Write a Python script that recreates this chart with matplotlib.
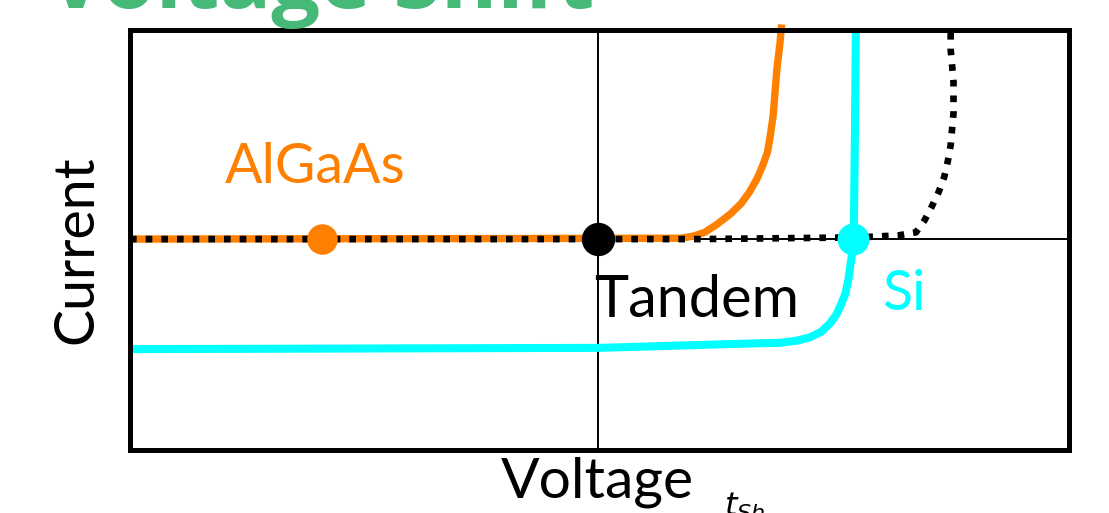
import matplotlib
matplotlib.use("Agg")
import matplotlib.pyplot as plt

# ---- data (normalised voltage / current) ----
algaas_v = [0.0, 0.586, 0.600, 0.612, 0.625, 0.639, 0.651, 0.660, 0.668, 0.674,
            0.679, 0.682, 0.685, 0.687, 0.689, 0.692, 0.694]
algaas_i = [0.501, 0.503, 0.508, 0.517, 0.536, 0.560, 0.586, 0.614, 0.646, 0.677,
            0.709, 0.749, 0.796, 0.852, 0.908, 0.963, 1.012]

si_v = [0.0, 0.5, 0.671, 0.692, 0.710, 0.724, 0.736, 0.745, 0.752, 0.757, 0.762,
        0.765, 0.767, 0.769, 0.770, 0.771, 0.772, 0.773]
si_i = [0.239, 0.242, 0.253, 0.254, 0.259, 0.267, 0.280, 0.299, 0.320, 0.344, 0.372,
        0.404, 0.435, 0.467, 0.503, 0.546, 0.75, 1.0]

tandem_v = [0.0, 0.606, 0.777, 0.819, 0.837, 0.846, 0.854, 0.861, 0.867, 0.871,
            0.874, 0.877, 0.877, 0.874, 0.874]
tandem_i = [0.501, 0.501, 0.505, 0.51, 0.517, 0.545, 0.579, 0.612, 0.648, 0.687,
            0.725, 0.801, 0.876, 0.952, 1.0]

op_v = [0.204, 0.498, 0.770]      # operating points: AlGaAs, Tandem, Si
op_i = [0.501, 0.501, 0.501]

labels = ["AlGaAs", "Tandem", "Si"]

ORANGE = "#FF8000"
CYAN = "#00FFFF"
GREEN = "#46B978"

W, H = 1109, 513
fig = plt.figure(figsize=(W / 100, H / 100), dpi=100)
L, R, T, B = 130, 1069, 29.5, 449.5
ax = fig.add_axes([L / W, 1 - B / H, (R - L) / W, (B - T) / H])
ax.set_xlim(0, 1)
ax.set_ylim(0, 1)
ax.set_xticks([])
ax.set_yticks([])
for s in ax.spines.values():
    s.set_linewidth(3.6)
    s.set_color("black")
    s.set_zorder(10)

ax.axvline(0.498, color="black", lw=1.4, zorder=1)
ax.axhline(0.501, color="black", lw=1.4, zorder=1)

ax.plot(si_v, si_i, color=CYAN, lw=5.8, solid_joinstyle="round",
        solid_capstyle="butt", zorder=2)
ax.plot(algaas_v, algaas_i, color=ORANGE, lw=5.3, solid_joinstyle="round",
        solid_capstyle="butt", zorder=3, clip_on=False)
ax.plot(tandem_v, tandem_i, color="black", lw=4.8, linestyle=(0, (1, 1.35)),
        dash_capstyle="butt", zorder=4)

ax.plot([op_v[0]], [op_i[0]], "o", color=ORANGE, ms=21, zorder=6)
ax.plot([op_v[1]], [op_i[1]], "o", color="black", ms=23, zorder=6)
ax.plot([op_v[2]], [op_i[2]], "o", color=CYAN, ms=22, zorder=6)

FONT = ["Lato", "DejaVu Sans"]
FS = 40
ax.text(0.101, 0.635, labels[0], color=ORANGE, fontsize=FS, family=FONT,
        ha="left", va="baseline", zorder=7)
ax.text(0.494, 0.315, labels[1], color="black", fontsize=41.5, family=FONT,
        ha="left", va="baseline", zorder=7)
ax.text(0.801, 0.332, labels[2], color=CYAN, fontsize=FS, family=FONT,
        ha="left", va="baseline", zorder=7)

fig.text(92 / W, 1 - 249.5 / H, "Current", fontsize=FS, family=FONT,
         rotation=90, rotation_mode="anchor", ha="center", va="baseline")
fig.text(597.5 / W, 1 - 497 / H, "Voltage", fontsize=41, family=FONT,
         ha="center", va="baseline")
fig.text(724 / W, 1 - 516 / H, r"$t_{Sh}$", fontsize=23,
         ha="left", va="baseline")

fig.text(48 / W, 1 - 8 / H, "Voltage Shift", fontsize=62, color=GREEN,
         family=["Open Sans", "DejaVu Sans"], fontweight="bold",
         ha="left", va="baseline")
fig.text(5 / W, 1 - 8 / H, "The", fontsize=62, color=GREEN,
         family=["Open Sans", "DejaVu Sans"], fontweight="bold",
         ha="right", va="baseline")

fig.savefig("out.png", dpi=100)
